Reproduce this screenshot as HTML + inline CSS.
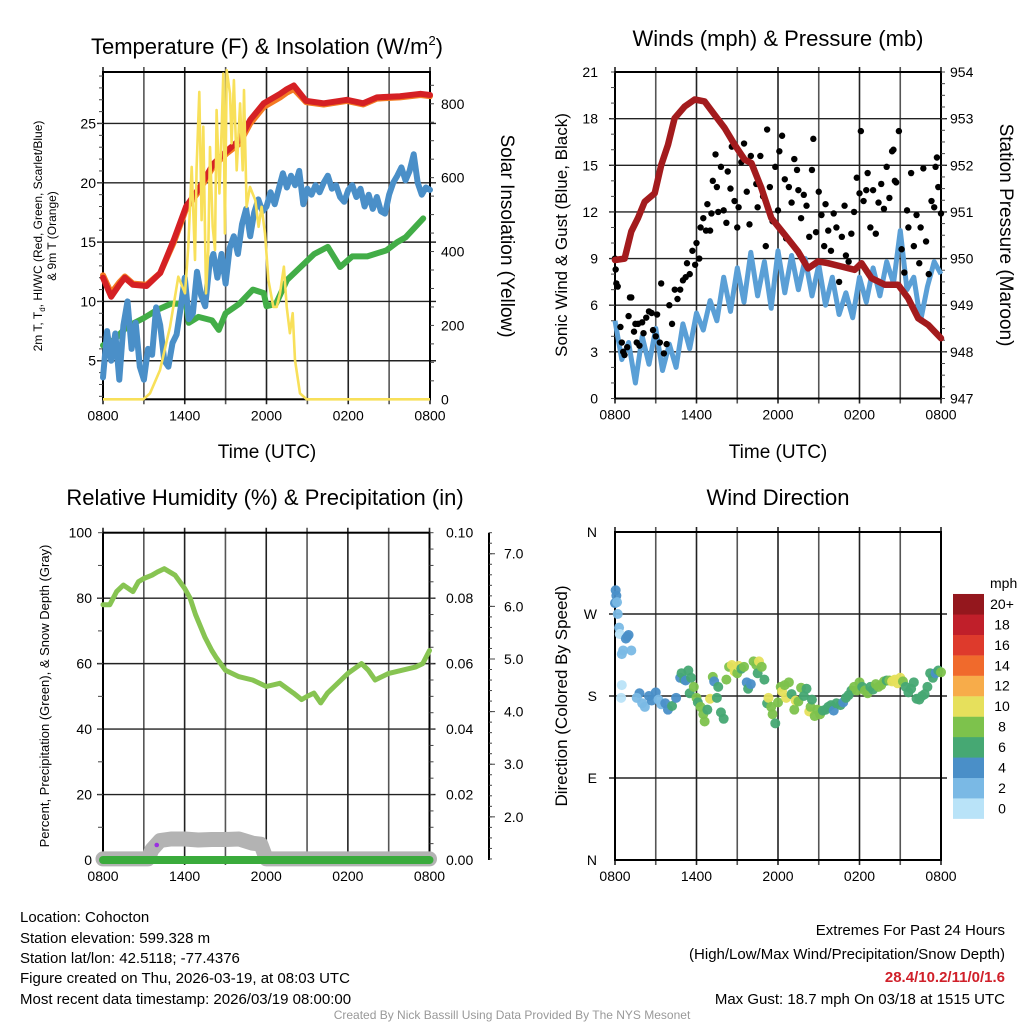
<!DOCTYPE html>
<html><head><meta charset="utf-8"><style>
html,body{margin:0;padding:0;background:#fff}
svg{display:block;font-family:"Liberation Sans",Arial,sans-serif}
</style></head><body>
<svg id="s" width="1024" height="1024" viewBox="0 0 1024 1024" xmlns="http://www.w3.org/2000/svg">
<rect width="1024" height="1024" fill="#fff"/>
<g id="static" font-family="Liberation Sans, Arial, sans-serif" fill="#000">
<text x="267" y="54" font-size="22" text-anchor="middle">Temperature (F) &amp; Insolation (W/m<tspan font-size="13" dy="-9">2</tspan><tspan dy="9">)</tspan></text>
<text x="778" y="46" font-size="22" text-anchor="middle">Winds (mph) &amp; Pressure (mb)</text>
<text x="265" y="505" font-size="22" text-anchor="middle">Relative Humidity (%) &amp; Precipitation (in)</text>
<text x="778" y="505" font-size="22" text-anchor="middle">Wind Direction</text>
<text x="267" y="458" font-size="19" text-anchor="middle">Time (UTC)</text>
<text x="778" y="458" font-size="19" text-anchor="middle">Time (UTC)</text>
<text transform="translate(42,236) rotate(-90)" font-size="12" text-anchor="middle">2m T, T<tspan font-size="8" dy="3">d</tspan><tspan dy="-3">, HI/WC (Red, Green, Scarlet/Blue)</tspan></text>
<text transform="translate(56,236) rotate(-90)" font-size="12" text-anchor="middle">&amp; 9m T (Orange)</text>
<text transform="translate(501,236) rotate(90)" font-size="19" text-anchor="middle">Solar Insolation (Yellow)</text>
<text transform="translate(567,235) rotate(-90)" font-size="17" text-anchor="middle">Sonic Wind &amp; Gust (Blue, Black)</text>
<text transform="translate(1000,235) rotate(90)" font-size="19" text-anchor="middle">Station Pressure (Maroon)</text>
<text transform="translate(49,696) rotate(-90)" font-size="13" text-anchor="middle">Percent, Precipitation (Green), &amp; Snow Depth (Gray)</text>
<text transform="translate(567,696) rotate(-90)" font-size="17" text-anchor="middle">Direction (Colored By Speed)</text>
<text x="990" y="588" font-size="14">mph</text>
<g font-size="15">
<text x="20" y="922">Location: Cohocton</text>
<text x="20" y="943">Station elevation: 599.328 m</text>
<text x="20" y="963">Station lat/lon: 42.5118; -77.4376</text>
<text x="20" y="983">Figure created on Thu, 2026-03-19, at 08:03 UTC</text>
<text x="20" y="1004">Most recent data timestamp: 2026/03/19 08:00:00</text>
</g>
<g font-size="15" text-anchor="end">
<text x="1005" y="935">Extremes For Past 24 Hours</text>
<text x="1005" y="959">(High/Low/Max Wind/Precipitation/Snow Depth)</text>
<text x="1005" y="982" fill="#d0202a" font-weight="bold">28.4/10.2/11/0/1.6</text>
<text x="1005" y="1004">Max Gust: 18.7 mph On 03/18 at 1515 UTC</text>
</g>
<text x="512" y="1019" font-size="12" fill="#999" text-anchor="middle">Created By Nick Bassill Using Data Provided By The NYS Mesonet</text>
</g>
<g id="dyn"></g>
</svg>
<script>
// ---- data (hours since 0800 UTC) ----
const timeTickLabels = ["0800","1400","2000","0200","0800"];
const redT = [0,0.6,1.2,1.6,2.2,3.2,4.2,5.2,6.1,7.1,8.1,9.1,10.0,10.8,11.8,13.0,13.5,14.0,14.9,16.2,17.9,19.1,20.1,21.8,23.3,24];
const redV = [12.0,10.4,11.4,12.0,11.4,11.3,12.4,15.2,18.0,19.6,21.6,22.7,23.6,25.3,26.7,27.5,27.9,28.2,26.9,26.7,27.0,26.7,27.2,27.3,27.5,27.4];
const orangeV = [12.2,10.7,11.6,12.1,11.5,11.4,12.4,15.0,17.8,19.4,21.4,22.5,23.3,25.0,26.4,27.2,27.6,27.9,26.8,26.6,26.9,26.6,27.1,27.2,27.4,27.3];
const blueT = [0,0.3,0.6,0.9,1.2,1.5,1.8,2.1,2.4,2.7,3.0,3.3,3.6,3.9,4.2,4.5,4.8,5.1,5.4,5.7,6.0,6.3,6.6,6.9,7.2,7.5,7.8,8.1,8.4,8.7,9.0,9.3,9.6,9.9,10.2,10.5,10.8,11.1,11.4,11.7,12.0,12.3,12.6,12.9,13.2,13.5,13.8,14.1,14.4,14.7,15.0,15.3,15.6,15.9,16.2,16.5,16.8,17.1,17.4,17.7,18.0,18.3,18.6,18.9,19.2,19.5,19.8,20.1,20.4,20.7,21.0,21.3,21.6,21.9,22.2,22.5,22.8,23.1,23.4,23.7,24.0];
const blueV = [3.6,7.5,5.0,7.3,3.4,8.0,10.0,6.0,8.2,4.5,3.4,6.0,5.5,9.5,8.0,5.0,4.5,6.5,7.2,9.5,12.0,8.5,9.0,12.5,10.5,9.6,13.0,14.0,12.0,14.0,11.5,14.5,15.5,14.0,16.5,17.8,15.5,17.5,18.6,17.6,18.0,19.2,18.2,19.5,20.8,19.6,20.6,19.8,21.0,18.2,19.5,19.0,19.8,19.2,20.0,20.6,19.5,19.8,18.8,18.4,19.4,19.8,18.8,19.5,18.0,19.0,17.8,18.8,17.6,17.4,19.0,20.0,20.6,21.3,20.2,21.0,22.4,20.0,19.0,19.6,19.4];
const greenT = [0,0.8,1.8,3.0,4.0,5.0,6.1,6.3,7.0,8.0,8.5,9.0,10.0,11.0,11.8,12.0,12.7,13.5,14.5,15.5,16.5,17.4,18.3,19.4,20.8,21.6,22.2,23.5];
const greenV = [6.3,6.75,7.9,8.6,9.3,9.8,9.8,8.2,8.7,8.4,7.6,9.0,9.8,11.0,10.7,9.6,9.8,11.8,12.9,14.0,14.6,12.9,13.8,13.8,14.3,15.0,15.4,17.0];
const solarT = [0,2.96,3.45,4.18,4.92,5.53,6.02,6.26,6.51,6.75,6.87,7.07,7.24,7.36,7.56,7.73,7.85,8.05,8.22,8.34,8.54,8.71,8.83,8.95,9.08,9.32,9.44,9.61,9.81,10.06,10.25,10.35,10.54,10.79,10.98,11.18,11.42,11.64,11.89,12.14,12.5,12.75,12.99,13.28,13.48,13.72,13.92,14.09,14.46,14.95,24];
const solarV = [0,0,16,79,196,332,287,413,629,377,627,832,485,738,287,404,683,467,404,783,557,738,882,449,891,828,693,864,620,801,620,837,521,575,557,539,467,521,449,323,250,250,287,359,250,179,233,106,16,0,0];
const windT = [0,0.5,1,1.5,2,2.5,3,3.5,4,4.5,5,5.5,6,6.5,7,7.5,8,8.5,9,9.5,10,10.5,11,11.5,12,12.5,13,13.5,14,14.5,15,15.5,16,16.5,17,17.5,18,18.5,19,19.5,20,20.5,21,21.5,22,22.5,23,23.5,24];
const windV = [5.0,2.5,3.6,1.0,4.0,2.2,4.5,1.8,3.5,2.0,4.8,3.2,5.5,4.4,6.3,5.0,7.8,5.6,8.4,6.2,9.4,6.6,8.8,5.8,9.5,6.8,9.2,7.0,9.0,6.6,8.6,6.0,7.8,5.4,6.8,5.2,7.8,6.2,8.4,6.6,8.8,7.4,10.8,7.0,7.8,5.0,7.2,8.8,8.0];
const gustT = [0,0.05,0.1,0.2,0.4,0.5,0.6,0.7,0.9,1.0,1.1,1.2,1.4,1.5,1.6,1.7,1.8,2.0,2.1,2.3,2.5,2.7,2.8,3.0,3.1,3.3,3.4,3.6,3.8,4.0,4.2,4.4,4.6,4.8,5.0,5.2,5.3,5.5,5.7,5.9,6.0,6.2,6.3,6.5,6.7,6.8,7.0,7.1,7.2,7.4,7.5,7.6,7.8,8.0,8.2,8.3,8.5,8.6,8.8,9.0,9.1,9.3,9.5,9.7,9.9,10.0,10.2,10.4,10.5,10.7,10.9,11.1,11.2,11.4,11.6,11.8,12.0,12.1,12.3,12.5,12.6,12.8,13.0,13.2,13.4,13.5,13.7,13.9,14.1,14.3,14.5,14.6,14.8,15.0,15.2,15.4,15.5,15.7,15.9,16.1,16.3,16.5,16.7,16.9,17.0,17.2,17.4,17.6,17.8,18.0,18.1,18.3,18.5,18.6,18.8,19.0,19.2,19.4,19.6,19.8,20.0,20.2,20.4,20.5,20.6,20.7,20.9,21.1,21.3,21.5,21.6,21.8,22.0,22.2,22.4,22.5,22.7,22.9,23.1,23.3,23.5,23.6,23.7,23.8,24.0];
const gustV = [9.0,8.3,7.4,7.2,4.6,3.6,3.0,2.8,3.3,5.3,6.5,6.5,4.3,4.8,3.6,4.8,3.4,4.9,4.2,5.2,5.6,5.5,4.4,4.0,5.4,3.6,7.4,2.9,3.5,6.0,4.8,7.0,6.4,7.0,7.6,7.8,8.7,8.0,9.5,8.6,10.0,9.0,11.0,11.6,10.8,12.5,10.8,11.9,14.0,15.7,13.6,12.0,14.9,12.1,11.3,14.6,13.5,16.2,12.7,11.0,12.3,15.2,16.4,13.3,11.2,15.6,14.8,13.8,12.3,15.6,13.0,9.8,17.3,13.6,11.4,14.9,12.1,15.9,16.9,14.1,10.3,13.6,12.6,15.4,14.7,13.4,11.6,13.1,12.4,10.4,14.7,16.7,10.7,13.3,11.8,9.8,12.5,10.8,9.5,11.9,11.0,7.5,10.4,12.4,9.2,8.8,10.6,12.0,14.2,13.2,17.2,12.7,13.4,14.5,11.0,13.4,10.6,12.6,13.8,12.2,14.9,12.9,15.9,16.0,14.0,13.9,17.2,9.6,8.1,12.1,11.0,14.5,9.8,11.8,8.7,11.0,14.8,10.1,8.0,12.7,12.3,14.9,15.5,13.6,11.9];
const presT = [0,0.71,1.2,1.69,2.19,2.92,3.41,3.9,4.39,5.13,5.87,6.6,7.34,8.07,8.81,9.55,10.04,10.78,11.51,12.5,13.48,14.21,14.95,15.69,16.67,17.65,18.15,18.88,19.86,20.84,21.58,22.32,23.05,24];
const presV = [949.97,950.0,950.58,950.87,951.22,951.4,952.01,952.44,953.01,953.26,953.41,953.37,953.08,952.8,952.44,952.12,952.05,951.51,950.87,950.51,950.15,949.79,949.94,949.9,949.83,949.76,949.9,949.58,949.44,949.44,949.15,948.72,948.58,948.29];
const rhT = [0,0.5,1,1.5,2.2,2.6,3,3.6,4,4.5,5.3,6,6.4,6.8,7.5,8,8.3,9,10,11,12,13,14,14.6,15,15.5,16,16.5,17,18,19,19.5,20,21,22,23,23.5,24];
const rhV = [78,78,82,84,82,85,86,87,88,89,87,83,80,75,68,64,62,58,56,55,53,54,51,49,50,51,48,51,53,57,60,58,55,57,58,59,60,64];
const precipT = [0,24];
const precipV = [0,0];
const snowT = [0,3.3,3.6,4.2,5,6,7,8,9,10,11,11.6,12,24];
const snowV = [1.2,1.2,1.38,1.55,1.58,1.58,1.56,1.57,1.57,1.58,1.5,1.48,1.2,1.2];
const dirT = [0.05,0.1,0,0.15,0.2,0.3,0.35,0.9,0.8,1.0,0.6,0.5,1.2,0.5,0.45,1.8,1.6,2.0,2.2,2.5,2.7,3.0,3.2,3.4,3.7,3.9,4.2,4.5,4.8,4.9,5.1,5.2,5.4,5.6,5.5,5.8,6.0,6.1,6.3,6.5,6.6,6.8,7.0,7.2,7.3,7.5,7.6,7.8,8.0,8.2,8.4,8.6,8.8,9.0,9.1,9.3,9.5,9.7,9.8,10.0,10.2,10.4,10.6,10.5,10.8,11.0,11.2,11.3,11.5,11.6,11.8,12.0,12.2,12.3,12.5,12.6,12.8,13.0,13.2,13.3,13.5,13.7,13.9,14.1,14.3,14.4,14.5,14.7,14.9,15.1,15.3,15.5,15.7,15.9,16.1,16.3,16.6,16.8,17.0,17.2,17.4,17.6,17.8,18.0,18.2,18.4,18.6,18.8,19.0,19.2,19.4,19.6,19.8,20.0,20.2,20.4,20.6,20.8,21.0,21.2,21.4,21.6,21.8,22.0,22.2,22.4,22.6,22.8,23.0,23.2,23.4,23.6,23.8,24.0];
const dirV = [296,290,282,283,270,255,248,245,243,247,230,226,230,192,178,183,178,172,168,180,175,184,176,171,172,165,169,178,200,205,198,197,208,200,183,190,178,173,168,160,152,165,177,201,196,178,190,162,155,198,212,214,207,205,213,210,212,195,188,193,218,214,218,205,212,198,172,178,168,160,150,173,190,185,192,178,195,182,165,175,174,189,180,188,163,168,176,158,165,160,164,165,168,170,164,172,170,173,178,181,186,190,186,195,190,186,183,190,187,193,190,192,196,197,197,196,198,194,200,196,190,184,188,195,177,176,180,182,190,205,200,205,208,206];
const dirS = [4,4,4,2,2,2,0,4,4,4,2,2,2,0,0,4,2,2,2,4,4,4,2,2,4,4,6,4,4,6,6,4,6,6,6,8,8,6,8,8,8,6,10,8,4,6,6,6,6,8,8,10,10,8,10,6,8,4,6,4,8,8,10,6,8,6,6,10,8,8,6,8,8,10,8,10,8,6,8,10,8,8,6,6,10,8,6,8,8,8,6,6,6,6,4,6,6,4,6,6,6,8,8,8,6,8,8,6,6,8,8,8,8,6,8,10,10,10,10,8,6,6,6,6,6,6,6,6,6,6,6,4,6,8,8,8,8];
const speedBinLabels = ["0","2","4","6","8","10","12","14","16","18","20+"];
const speedBinColors = ["#b9e3f8","#7ab9e5","#4a8fc8","#46a873","#7dc24c","#e6e05c","#f7ac4a","#f06a2c","#de3a2c","#c01f2a","#94171d"];

// ---- helpers ----
const NS = "http://www.w3.org/2000/svg";
const root = document.getElementById("dyn");
function mk(tag, attrs, parent) {
  const e = document.createElementNS(NS, tag);
  for (const k in attrs) e.setAttribute(k, attrs[k]);
  (parent || root).appendChild(e);
  return e;
}
function lin(d0, d1, r0, r1) { return v => r0 + (v - d0) * (r1 - r0) / (d1 - d0); }
function path(ts, vs, sx, sy) { return ts.map((t, i) => (i ? "L" : "M") + sx(t).toFixed(1) + "," + sy(vs[i]).toFixed(1)).join(""); }

function panelFrame(name, x0, x1, y0, y1, yTicks, sy) {
  const g = mk("g", {});
  
  
  const sx = lin(0, 24, x0, x1);
  for (let h = 0; h <= 24; h += 3) {
    const gl = mk("line", {x1: sx(h), x2: sx(h), y1: y0 - 5, y2: y1 + 5, stroke: h % 6 ? "#555" : "#222", "stroke-width": 1.6}, g);
    
    
  }
  yTicks.forEach(v => {
    const hl = mk("line", {x1: x0 - 6, x2: x1 + 6, y1: sy(v), y2: sy(v), stroke: "#222", "stroke-width": 1.4}, g);
    
    
  });
  const fr = mk("rect", {x: x0, y: y0, width: x1 - x0, height: y1 - y0, fill: "none", stroke: "#000", "stroke-width": 2}, g);
  
  
  timeTickLabels.forEach((lab, i) => {
    const t = mk("text", {x: sx(i * 6), y: y1 + 21, "font-size": 14, "text-anchor": "middle"}, g);
    t.textContent = lab;
    
    
  });
  return sx;
}
function yLabels(name, ticks, sy, x, anchor, fmt, size) {
  ticks.forEach(v => {
    const t = mk("text", {x: x, y: sy(v) + 5, "font-size": size || 14, "text-anchor": anchor});
    t.textContent = fmt ? fmt(v) : String(v);
    
    
  });
}
function minorTicks(x, from, to, step, sy, dir, len) {
  for (let v = from; v <= to + 1e-9; v += step) {
    const l = mk("line", {x1: x, x2: x + dir * len, y1: sy(v), y2: sy(v), stroke: "#444", "stroke-width": 1});
    
    
  }
}

// ---- Panel 1: temperature ----
const p1y = lin(1.75, 29.34, 399.3, 72);
const p1r = lin(0, 886, 399.3, 72);
const p1x = panelFrame("temp", 103, 430, 72, 399.3, [5,10,15,20,25], p1y);
yLabels("temp-y-tick-label", [5,10,15,20,25], p1y, 96, "end");
yLabels("insolation-tick-label", [0,200,400,600,800], p1r, 441, "start");
minorTicks(103, 2, 29, 1, p1y, -1, 4);
minorTicks(430, 50, 850, 50, p1r, 1, 4);
const lOr = mk("path", {d: path(redT, orangeV, p1x, p1y), fill: "none", stroke: "#f47a22", "stroke-width": 6, "stroke-linejoin": "round", "stroke-linecap": "round"});


const lRed = mk("path", {d: path(redT, redV, p1x, p1y), fill: "none", stroke: "#d52024", "stroke-width": 6, "stroke-linejoin": "round", "stroke-linecap": "round"});


const lGr = mk("path", {d: path(greenT, greenV, p1x, p1y), fill: "none", stroke: "#42ad47", "stroke-width": 6, "stroke-linejoin": "round", "stroke-linecap": "round"});


const lBl = mk("path", {d: path(blueT, blueV, p1x, p1y), fill: "none", stroke: "#4a8fc8", "stroke-width": 6, "stroke-linejoin": "round", "stroke-linecap": "round"});


const lYe = mk("path", {d: path(solarT, solarV, p1x, p1r), fill: "none", stroke: "#f8e05a", "stroke-width": 2.6, "stroke-linejoin": "round"});



// ---- Panel 2: winds & pressure ----
const p2y = lin(0, 21, 398.5, 72);
const p2r = lin(947, 954, 398.5, 72);
const p2x = panelFrame("wind", 615, 941, 72, 398.5, [3,6,9,12,15,18], p2y);
yLabels("wind-y-tick-label", [0,3,6,9,12,15,18,21], p2y, 598, "end");
yLabels("pressure-tick-label", [947,948,949,950,951,952,953,954], p2r, 950, "start");
minorTicks(615, 0, 21, 1, p2y, -1, 4);
minorTicks(941, 947, 954, 0.25, p2r, 1, 4);
const lW = mk("path", {d: path(windT, windV, p2x, p2y), fill: "none", stroke: "#5a9fd6", "stroke-width": 5, "stroke-linejoin": "round"});


gustT.forEach((t, i) => {
  const c = mk("circle", {cx: p2x(t), cy: p2y(gustV[i]), r: 3.2, fill: "#000"});
  
  
});
const lP = mk("path", {d: path(presT, presV, p2x, p2r), fill: "none", stroke: "#a31b1d", "stroke-width": 6.5, "stroke-linejoin": "round", "stroke-linecap": "round"});



// ---- Panel 3: RH & precip ----
const p3y = lin(0, 100, 860, 532.7);
const p3r = lin(0, 0.1, 860, 532.7);
const p3s = lin(1.18, 7.4, 860, 532.7);
const p3x = panelFrame("humidity", 103, 429.5, 532.7, 860, [20,40,60,80], p3y);
yLabels("humidity-y-tick-label", [0,20,40,60,80,100], p3y, 92, "end");
yLabels("precip-tick-label", [0,0.02,0.04,0.06,0.08,0.1], p3r, 446, "start", v => v.toFixed(2));
yLabels("snow-depth-tick-label", [2,3,4,5,6,7], p3s, 504, "start", v => v.toFixed(1));
minorTicks(103, 0, 100, 10, p3y, -1, 5);
minorTicks(429.5, 0, 0.1, 0.005, p3r, 1, 4);
const fa = mk("line", {x1: 489, x2: 489, y1: 532.7, y2: 860, stroke: "#000", "stroke-width": 2});


minorTicks(489, 1.2, 7.4, 0.2, p3s, 1, 3);
minorTicks(489, 2, 7, 1, p3s, 1, 6);
const lS = mk("path", {d: path(snowT, snowV, p3x, p3s), fill: "none", stroke: "#b3b3b3", "stroke-width": 15, "stroke-linejoin": "round", "stroke-linecap": "round"});


const lPr = mk("path", {d: path(precipT, precipV, p3x, p3r), fill: "none", stroke: "#3aab3c", "stroke-width": 8, "stroke-linecap": "round"});


const pd = mk("circle", {cx: p3x(3.95), cy: 845, r: 2.3, fill: "#9b30e0"});


const lRH = mk("path", {d: path(rhT, rhV, p3x, p3y), fill: "none", stroke: "#87c452", "stroke-width": 5, "stroke-linejoin": "round", "stroke-linecap": "round"});



// ---- Panel 4: wind direction ----
const p4y = lin(0, 360, 860, 532);
const p4x = panelFrame("direction", 615, 941, 532, 860, [90,180,270], p4y);
const dirLabels = ["N","E","S","W","N"];
dirLabels.forEach((lab, i) => {
  const t = mk("text", {x: 597, y: p4y(i * 90) + 5, "font-size": 14, "text-anchor": "end"});
  t.textContent = lab;
  
  
});
dirT.forEach((t, i) => {
  const bin = Math.min(10, Math.floor(dirS[i] / 2));
  const c = mk("circle", {cx: p4x(t), cy: p4y(dirV[i]), r: 5, fill: speedBinColors[bin], "fill-opacity": 0.95});
  
  
});
speedBinLabels.forEach((lab, i) => {
  const yTop = 818.7 - (i + 1) * 20.43;
  const r = mk("rect", {x: 953, y: yTop, width: 31, height: 20.6, fill: speedBinColors[i]});
  
  
  const t = mk("text", {x: 1002, y: yTop + 15, "font-size": 14, "text-anchor": "middle"});
  t.textContent = lab;
  
  
});
</script>
</body></html>
